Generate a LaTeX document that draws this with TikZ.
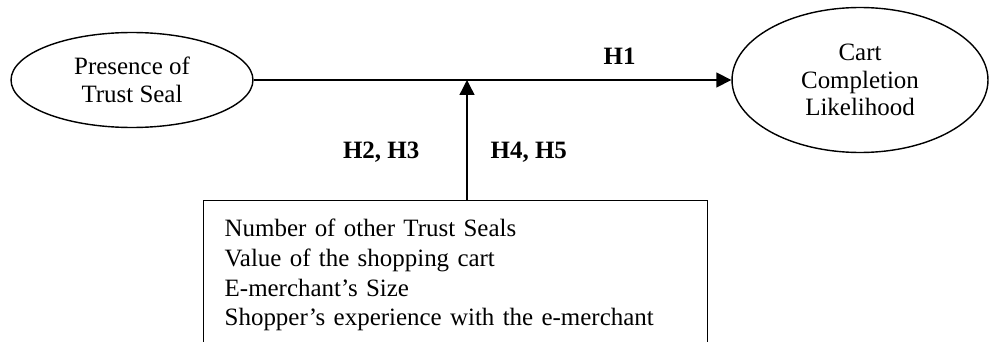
\documentclass[tikz,border=0pt]{standalone}
\usepackage{fontspec}
\setmainfont{Liberation Serif}
\usetikzlibrary{arrows.meta, positioning, shapes.geometric}
\tikzset{
    construct/.style={
           ellipse,
           draw=black, line width=0.8pt,
           inner sep=0pt,
           align=center,
           font=\fontsize{14.2pt}{15.6pt}\selectfont,
           },
    factorbox/.style={
           rectangle,
           draw=black, line width=0.8pt,
           inner xsep=0.42cm, inner ysep=0.36cm,
           text width=9.24cm,
           align=left,
           font=\fontsize{14.2pt}{17pt}\selectfont,
           },
    hyp/.style={
           inner sep=0pt,
           font=\fontsize{14.2pt}{17pt}\selectfont\bfseries,
           },
}

\begin{document}
\begin{tikzpicture}[x=0.02cm, y=-0.02cm, -{Triangle[length=0.3cm, width=0.3cm]}, line width=0.8pt]
  \useasboundingbox (0,0) rectangle (989,341);
  \node[construct, minimum width=4.84cm, minimum height=1.9cm] (S) at (132, 80) {Presence of\\Trust Seal};
  \node[construct, minimum width=5.12cm, minimum height=2.9cm] (C) at (860, 80) {Cart\\Completion\\Likelihood};
  \node[factorbox, anchor=north west] (F) at (203, 200)
       {Number of other Trust Seals\\
        Value of the shopping cart\\
        E-merchant's Size\\
        Shopper's experience with the e-merchant};
  \coordinate (M) at (467, 80);
  \draw (S.east) -- node[hyp, pos=0.766, above=0.3cm]{H1} (C.west);
  \draw (F.north -| M) -- node[hyp, pos=0.395, left=0.94cm]{H2, H3}
                          node[hyp, pos=0.395, right=0.46cm]{H4, H5} (M);
\end{tikzpicture}
\end{document}
